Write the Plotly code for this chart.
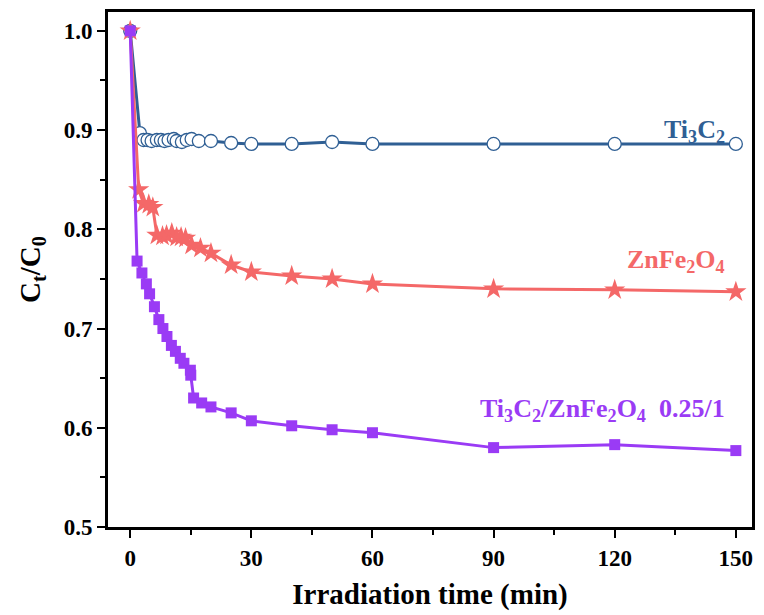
import plotly.graph_objects as go

# Ti3C2
t_ti3c2 = [0, 2.4, 3.3, 4.3, 5.3, 6.6, 7.6, 8.5, 9.5, 10.8, 11.5, 12.8, 14, 15.2, 17, 20, 25, 30, 40, 50, 60, 90, 120, 150]
y_ti3c2 = [1.0, 0.897, 0.890, 0.890, 0.889, 0.890, 0.890, 0.889, 0.890, 0.891, 0.889, 0.888, 0.890, 0.891, 0.889, 0.889, 0.887, 0.886, 0.886, 0.888, 0.886, 0.886, 0.886, 0.886]

# ZnFe2O4
t_znfe = [0, 2.1, 3.3, 4.6, 5.6, 6.6, 8.0, 9.0, 10.3, 11.5, 12.6, 13.7, 15.2, 17.4, 20, 25, 30, 40, 50, 60, 90, 120, 150]
y_znfe = [1.0, 0.840, 0.826, 0.825, 0.822, 0.794, 0.793, 0.794, 0.796, 0.792, 0.792, 0.791, 0.784, 0.781, 0.776, 0.764, 0.757, 0.753, 0.750, 0.745, 0.740, 0.739, 0.737]

# Ti3C2/ZnFe2O4 0.25/1
t_comp = [0, 1.7, 2.9, 4.0, 4.8, 6.0, 7.1, 8.1, 9.1, 10.2, 11.2, 12.4, 13.3, 14.9, 15.0, 15.7, 17.7, 20, 25, 30, 40, 50, 60, 90, 120, 150]
y_comp = [1.0, 0.768, 0.756, 0.745, 0.735, 0.722, 0.709, 0.700, 0.692, 0.683, 0.677, 0.670, 0.665, 0.658, 0.653, 0.630, 0.625, 0.621, 0.615, 0.607, 0.602, 0.598, 0.595, 0.580, 0.583, 0.577]

x_ticks = [0, 30, 60, 90, 120, 150]
y_ticks = [0.5, 0.6, 0.7, 0.8, 0.9, 1.0]

BLUE = "#2F5F94"
RED = "#F46868"
PURPLE = "#9A3BF5"
FONT = "Liberation Serif"

fig = go.Figure()
fig.add_trace(go.Scatter(
    x=t_ti3c2, y=y_ti3c2, mode="lines+markers",
    line=dict(color=BLUE, width=3),
    marker=dict(symbol="circle", size=13, color="white", line=dict(color=BLUE, width=1.3)),
    showlegend=False))
fig.add_trace(go.Scatter(
    x=t_znfe, y=y_znfe, mode="lines+markers",
    line=dict(color=RED, width=3),
    marker=dict(symbol="star", size=16, color=RED),
    showlegend=False))
fig.add_trace(go.Scatter(
    x=t_comp, y=y_comp, mode="lines+markers",
    line=dict(color=PURPLE, width=3),
    marker=dict(symbol="square", size=11, color=PURPLE),
    showlegend=False))

ann_font = dict(family=FONT, size=26)
fig.add_annotation(x=147.8, y=0.899, xanchor="right", text="<b>Ti<sub>3</sub>C<sub>2</sub></b>", showarrow=False,
                   font=dict(color=BLUE, **ann_font))
fig.add_annotation(x=147.8, y=0.768, xanchor="right", text="<b>ZnFe<sub>2</sub>O<sub>4</sub></b>", showarrow=False,
                   font=dict(color=RED, **ann_font))
fig.add_annotation(x=147.8, y=0.618, xanchor="right",
                   text="<b>Ti<sub>3</sub>C<sub>2</sub>/ZnFe<sub>2</sub>O<sub>4</sub>  0.25/1</b>",
                   showarrow=False, font=dict(color=PURPLE, **ann_font))

axis_common = dict(showline=True, linecolor="black", linewidth=3, mirror=True,
                   ticks="outside", ticklen=8, tickwidth=2, tickcolor="black",
                   showgrid=False, zeroline=False, automargin=False,
                   tickfont=dict(family=FONT, size=23, color="black"))
fig.update_xaxes(range=[-5.5, 154], tickvals=x_ticks,
                 minor=dict(ticks="outside", ticklen=5, tickwidth=2, dtick=15, tick0=0, tickcolor="black"),
                 title=dict(text="<b>Irradiation time (min)</b>", font=dict(family=FONT, size=29, color="black")),
                 ticktext=[f"<b>{v}</b>" for v in x_ticks], **axis_common)
fig.update_yaxes(range=[0.5, 1.019], tickvals=y_ticks,
                 ticktext=[f"<b>{v:.1f}</b>" for v in y_ticks],
                 minor=dict(ticks="outside", ticklen=5, tickwidth=2, dtick=0.05, tick0=0.5, tickcolor="black"),
                 title=dict(text="<b>C<sub>t</sub>/C<sub>0</sub></b>", font=dict(family=FONT, size=29, color="black")),
                 **axis_common)

fig.update_layout(width=764, height=615, plot_bgcolor="white", paper_bgcolor="white",
                  margin=dict(l=108, r=12, t=12, b=88))
fig.write_html("out.html", config={"displayModeBar": False},
               post_script="document.body.style.margin='0';document.body.style.overflow='hidden';")
